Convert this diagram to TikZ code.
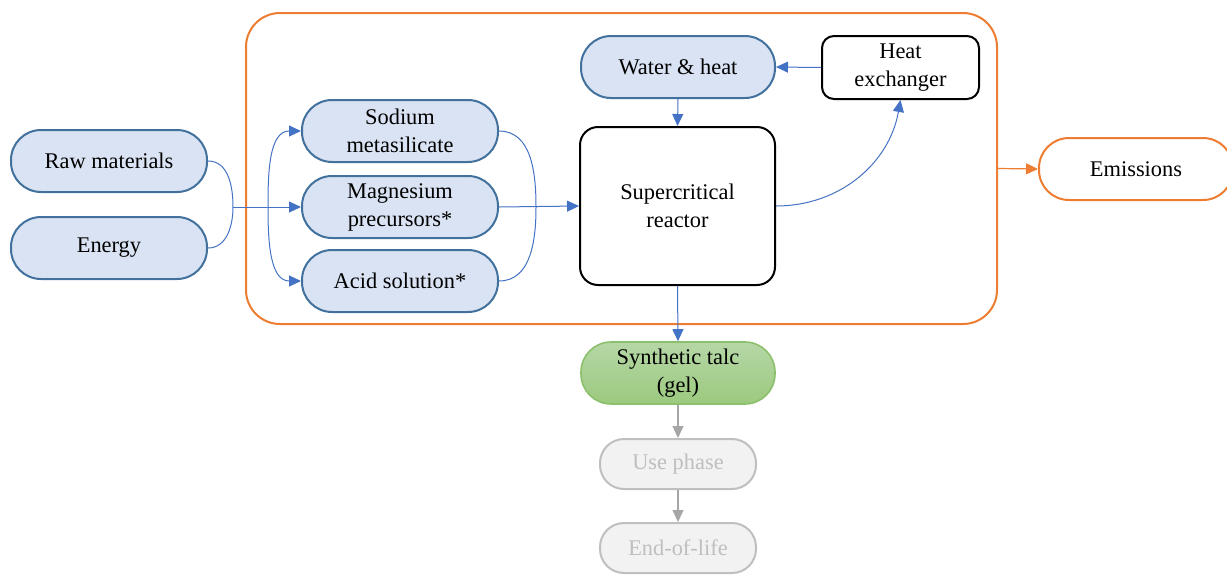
\documentclass[tikz,border=0pt]{standalone}
\usepackage{fontspec}
\setmainfont{Liberation Serif}
\usetikzlibrary{arrows.meta}
\definecolor{bluefill}{HTML}{DAE3F3}
\definecolor{bluedraw}{HTML}{41719C}
\definecolor{bluearrow}{HTML}{4472C4}
\definecolor{orangeline}{HTML}{ED7D31}
\definecolor{greentop}{HTML}{B5D7A6}
\definecolor{greenbot}{HTML}{9CC97F}
\definecolor{greendraw}{HTML}{8CC06C}
\definecolor{grayfill}{HTML}{F2F2F2}
\definecolor{graydraw}{HTML}{BFBFBF}
\definecolor{grayarrow}{HTML}{A6A6A6}
\begin{document}
\begin{tikzpicture}[x=0.5pt,y=-0.5pt,
  every node/.style={font=\fontsize{11.2}{14}\selectfont, align=center, inner sep=0pt},
  bluebox/.style={draw=bluedraw, fill=bluefill, line width=1pt, rounded corners=15pt,
    minimum width=98pt, minimum height=31pt},
  blackbox/.style={draw=black, fill=white, line width=1pt},
  graybox/.style={draw=graydraw, fill=grayfill, line width=1pt, rounded corners=12pt,
    minimum width=78pt, minimum height=25pt, text=graydraw},
  conn/.style={draw=bluearrow, line width=0.5pt},
  arr/.style={conn, -{Triangle[length=6pt,width=5.5pt]}},
  grayarr/.style={draw=grayarrow, line width=0.6pt, -{Triangle[length=6pt,width=5.5pt]}},
  orarr/.style={draw=orangeline, line width=0.6pt, -{Triangle[length=6pt,width=5.5pt]}}
]
\useasboundingbox (0,0) rectangle (1227,574);

% system boundary
\node[draw=orangeline, line width=1pt, rounded corners=17pt,
  minimum width=375.5pt, minimum height=155.5pt] (sys) at (621.5,168.5) {};

% left inputs
\node[bluebox] (raw) at (109,161) {Raw materials};
\node[bluebox] (energy) at (109,248) {Energy};

% precursors
\node[bluebox] (sod) at (400,131) {Sodium\\metasilicate};
\node[bluebox] (mag) at (400,207) {Magnesium\\precursors*};
\node[bluebox] (acid) at (400,281) {Acid solution*};

% reactor and loop
\node[blackbox, rounded corners=9pt, minimum width=97.5pt, minimum height=79pt] (reac) at (677.5,206) {Supercritical\\reactor};
\node[bluebox, minimum width=97pt] (water) at (678,67) {Water \& heat};
\node[blackbox, rounded corners=6pt, minimum width=78.5pt, minimum height=31.5pt] (hx) at (900.5,67.5) {Heat\\exchanger};

% outputs
\node[draw=greendraw, line width=0.8pt, top color=greentop, bottom color=greenbot,
  rounded corners=15pt, minimum width=97pt, minimum height=31pt] (talc) at (678,373) {Synthetic talc\\(gel)};
\node[graybox] (use) at (678,464) {Use phase};
\node[graybox] (eol) at (678,548) {End-of-life};
\node[draw=orangeline, fill=white, line width=1pt, rounded corners=15pt,
  minimum width=97pt, minimum height=31pt] (em) at (1136,169) {Emissions};

% connectors
\coordinate (j1) at (233,207);
\coordinate (j2) at (268,207);
\coordinate (j3) at (536,207);
\draw[conn] (raw.east) to[out=0,in=90] (j1) to[out=-90,in=0] (energy.east);
\draw[arr] (j1) -- (mag.west);
\draw[arr] (j2) to[out=90,in=180] (sod.west);
\draw[arr] (j2) to[out=-90,in=180] (acid.west);
\draw[conn] (sod.east) to[out=0,in=90] (j3) to[out=-90,in=0] (acid.east);
\draw[arr] (mag.east) -- (reac.west);
\draw[arr] (hx.west) -- (water.east);
\draw[arr] (water.south) -- (reac.north);
\draw[arr] (reac.east) to[out=0,in=-100] (hx.south);
\draw[arr] (reac.south) -- (talc.north);
\draw[grayarr] (talc.south) -- (use.north);
\draw[grayarr] (use.south) -- (eol.north);
\draw[orarr] (sys.east) -- (em.west);
\end{tikzpicture}
\end{document}
